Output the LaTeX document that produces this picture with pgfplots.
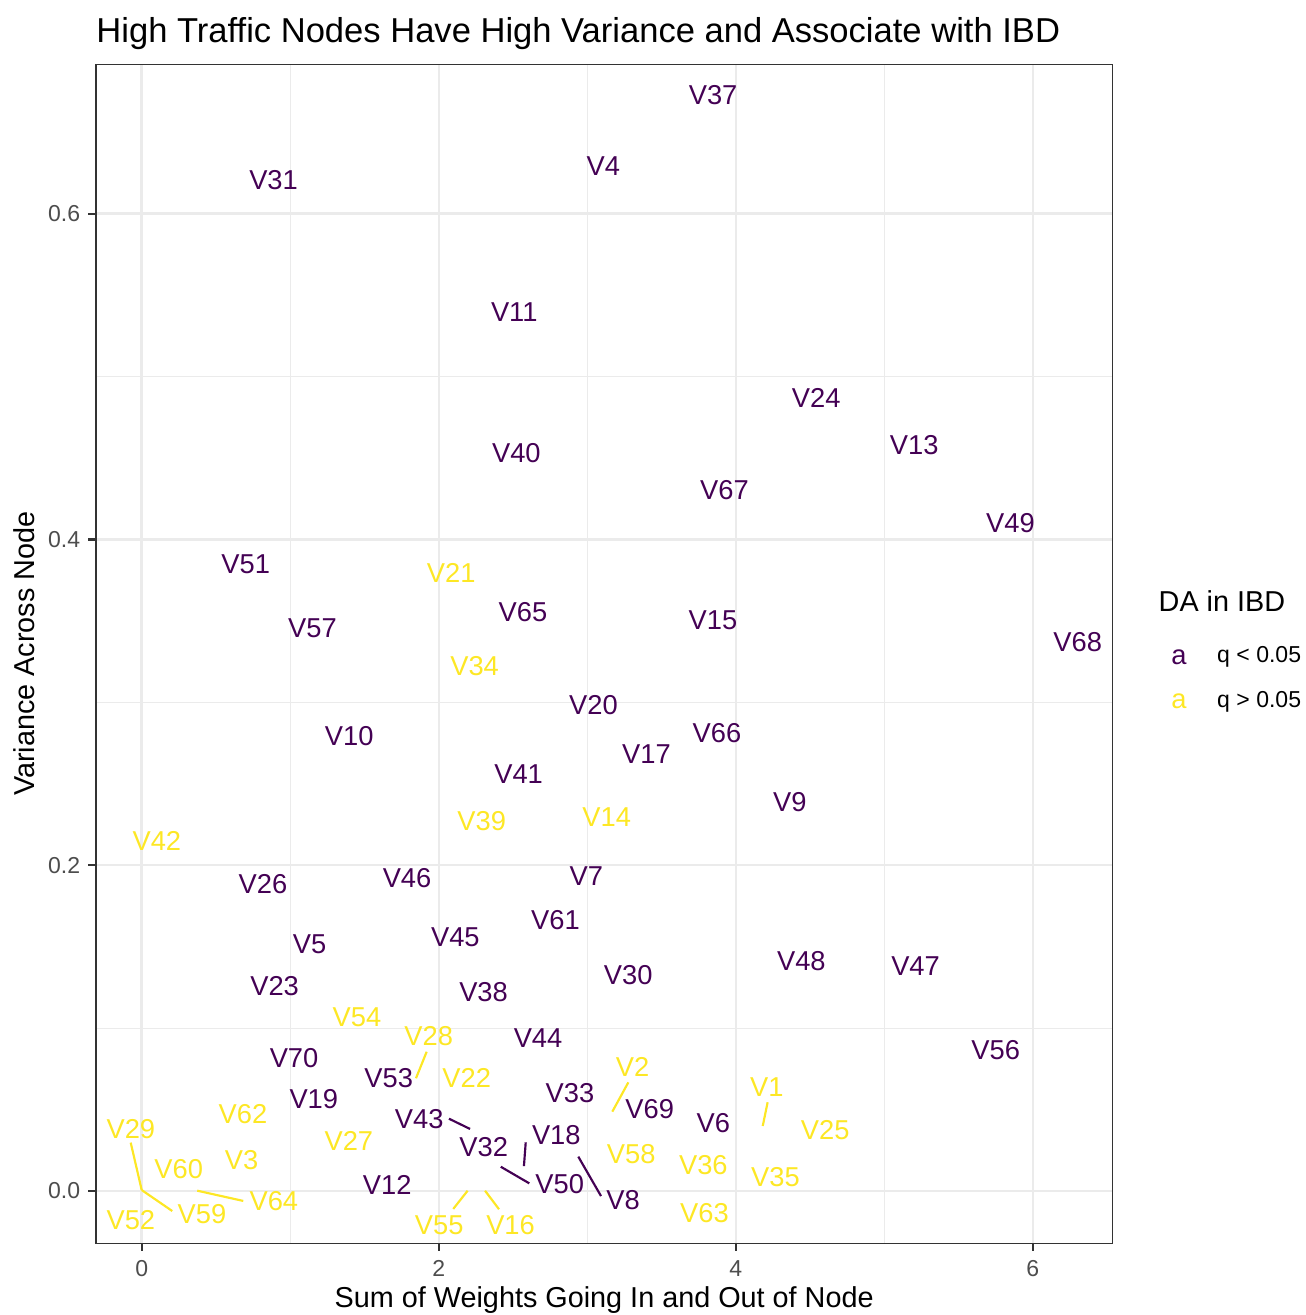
\documentclass[border=0pt]{standalone}
\usepackage{fontspec}
\setmainfont{Liberation Sans}
\usepackage{pgfplots}
\pgfplotsset{compat=1.18}
\usepackage{pgfplotstable}
\definecolor{vpurple}{HTML}{440154}
\definecolor{vyellow}{HTML}{FDE725}
\definecolor{grey20}{HTML}{333333}
\definecolor{grey30}{HTML}{4D4D4D}
\definecolor{grey92}{HTML}{EBEBEB}
\newcommand{\labfont}{\fontsize{11.38}{13}\selectfont}
\newcommand{\ticksize}{\fontsize{9.6}{11}\selectfont}
\newcommand{\axtitlesize}{\fontsize{12}{14}\selectfont}
\newcommand{\titlesize}{\fontsize{14.4}{17}\selectfont}

\pgfplotstableread{
x y label
3.848 0.6726 V37
3.108 0.6293 V4
0.888 0.6203 V31
2.509 0.5393 V11
4.542 0.4866 V24
5.202 0.4578 V13
2.523 0.4532 V40
3.924 0.4303 V67
5.850 0.4101 V49
0.700 0.3849 V51
2.567 0.3553 V65
3.847 0.3502 V15
1.150 0.3454 V57
6.303 0.3367 V68
3.042 0.2982 V20
1.397 0.2795 V10
3.874 0.2810 V66
3.399 0.2681 V17
2.538 0.2558 V41
4.364 0.2390 V9
0.817 0.1886 V26
1.787 0.1920 V46
2.994 0.1936 V7
2.786 0.1664 V61
1.130 0.1518 V5
2.112 0.1555 V45
4.442 0.1413 V48
5.211 0.1378 V47
3.276 0.1324 V30
0.895 0.1257 V23
2.302 0.1222 V38
2.669 0.0940 V44
5.751 0.0866 V56
1.026 0.0816 V70
1.663 0.0695 V53
2.884 0.0600 V33
1.159 0.0566 V19
3.421 0.0500 V69
1.869 0.0441 V43
3.849 0.0416 V6
2.792 0.0342 V18
2.303 0.0270 V32
2.815 0.0042 V50
1.653 0.0040 V12
3.241 -0.0055 V8
}\sigtab

\pgfplotstableread{
x y label
2.084 0.3796 V21
2.242 0.3224 V34
2.290 0.2273 V39
3.131 0.2293 V14
0.102 0.2147 V42
1.450 0.1068 V54
1.933 0.0950 V28
3.306 0.0761 V2
2.189 0.0692 V22
4.209 0.0635 V1
0.682 0.0470 V62
-0.073 0.0379 V29
4.603 0.0373 V25
1.395 0.0308 V27
3.296 0.0229 V58
0.673 0.0188 V3
3.782 0.0161 V36
0.249 0.0137 V60
4.268 0.0085 V35
0.890 -0.0063 V64
3.790 -0.0135 V63
0.406 -0.0139 V59
-0.073 -0.0176 V52
2.003 -0.0209 V55
2.484 -0.0209 V16
}\nsigtab

\begin{document}
\begin{tikzpicture}
\begin{axis}[
  name=ax, at={(40pt,29.875pt)}, anchor=south west,
  scale only axis, width=423.46pt, height=491.25pt,
  xmin=-0.3077, xmax=6.536, ymin=-0.0321, ymax=0.6917,
  xtick={0,2,4,6}, xticklabels={0,2,4,6},
  ytick={0,0.2,0.4,0.6}, yticklabels={0.0,0.2,0.4,0.6},
  minor xtick={1,3,5}, minor ytick={0.1,0.3,0.5},
  grid=both,
  major grid style={draw=grey92, line width=1.0pt},
  minor grid style={draw=grey92, line width=0.5pt},
  axis line style={draw=grey20, line width=0.6pt},
  tick align=outside, tick pos=left,
  major tick length=3.2pt, minor tick length=0pt,
  major tick style={draw=grey20, line width=0.95pt},
  xticklabel style={font=\ticksize, text=grey30, inner sep=0pt, anchor=north, yshift=-3.8pt},
  yticklabel style={font=\ticksize, text=grey30, inner sep=0pt, anchor=east, xshift=-3.2pt},
  clip=false,
]
% segments (label to point)
\addplot[vyellow, line width=0.9pt] coordinates {(-0.074,0.0297) (0,0.0006)};
\addplot[vyellow, line width=0.9pt] coordinates {(0,0.0006) (0.206,-0.0123)};
\addplot[vyellow, line width=0.9pt] coordinates {(0.374,0.0002) (0.684,-0.0061)};
\addplot[vyellow, line width=0.9pt] coordinates {(1.919,0.0855) (1.847,0.0692)};
\addplot[vyellow, line width=0.9pt] coordinates {(3.277,0.0667) (3.169,0.0487)};
\addplot[vyellow, line width=0.9pt] coordinates {(4.215,0.0545) (4.182,0.0399)};
\addplot[vyellow, line width=0.9pt] coordinates {(2.195,0.0002) (2.098,-0.0110)};
\addplot[vyellow, line width=0.9pt] coordinates {(2.312,0.0002) (2.406,-0.0112)};
\addplot[vpurple, line width=0.9pt] coordinates {(2.069,0.0444) (2.211,0.0381)};
\addplot[vpurple, line width=0.9pt] coordinates {(2.586,0.0299) (2.574,0.0153)};
\addplot[vpurple, line width=0.9pt] coordinates {(2.418,0.0149) (2.610,0.0047)};
\addplot[vpurple, line width=0.9pt] coordinates {(2.940,0.0211) (3.093,-0.0031)};
% labels
\addplot[only marks, mark=none, nodes near coords, point meta=explicit symbolic,
  nodes near coords style={anchor=center, inner sep=0pt, font=\labfont, text=vpurple}]
  table[x=x, y=y, meta=label] {\sigtab};
\addplot[only marks, mark=none, nodes near coords, point meta=explicit symbolic,
  nodes near coords style={anchor=center, inner sep=0pt, font=\labfont, text=vyellow}]
  table[x=x, y=y, meta=label] {\nsigtab};
\end{axis}
% title and axis titles
\node[anchor=base west, inner sep=0pt, font=\titlesize] at (40pt,530.29pt) {High Traffic Nodes Have High Variance and Associate with IBD};
\node[anchor=base, inner sep=0pt, font=\axtitlesize] at (251.73pt,3.04pt) {Sum of Weights Going In and Out of Node};
\node[rotate=90, anchor=base, inner sep=0pt, font=\axtitlesize] at (14.29pt,275.5pt) {Variance Across Node};
% legend
\node[anchor=base west, inner sep=0pt, font=\axtitlesize] at (482.6pt,293.04pt) {DA in IBD};
\node[anchor=base, inner sep=0pt, font=\labfont, text=vpurple] at (491.25pt,271.1pt) {a};
\node[anchor=base west, inner sep=0pt, font=\ticksize] at (506.96pt,271.67pt) {q < 0.05};
\node[anchor=base, inner sep=0pt, font=\labfont, text=vyellow] at (491.25pt,252.5pt) {a};
\node[anchor=base west, inner sep=0pt, font=\ticksize] at (506.96pt,253.1pt) {q > 0.05};
\pgfresetboundingbox
\path[use as bounding box] (0,0) rectangle (543.75pt,547.92pt);
\end{tikzpicture}
\end{document}
